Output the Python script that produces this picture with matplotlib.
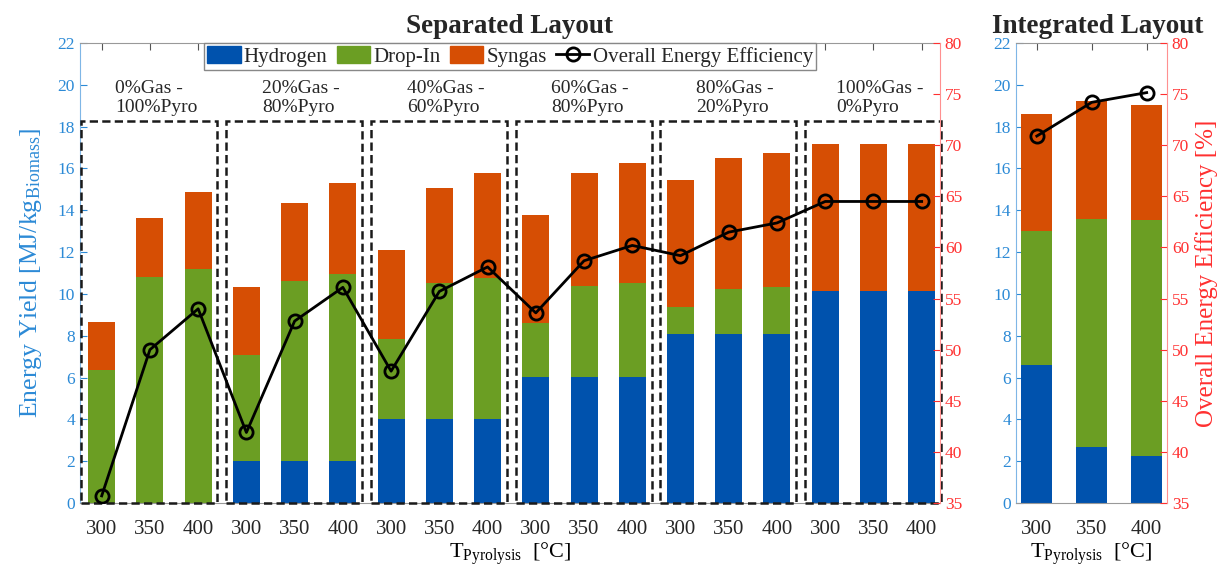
import numpy as np
import matplotlib.pyplot as plt
from matplotlib.patches import Patch, Rectangle
from matplotlib.lines import Line2D

plt.rcParams['font.family'] = ['Liberation Serif', 'DejaVu Serif']
plt.rcParams['mathtext.fontset'] = 'custom'
plt.rcParams['mathtext.rm'] = 'Liberation Serif'
plt.rcParams['mathtext.it'] = 'Liberation Serif:italic'
plt.rcParams['text.color'] = '#262626'

# data
temps = ['300', '350', '400']
groups = ['0%Gas -\n100%Pyro', '20%Gas -\n80%Pyro', '40%Gas -\n60%Pyro',
          '60%Gas -\n80%Pyro', '80%Gas -\n20%Pyro', '100%Gas -\n0%Pyro']

sep_hydrogen = [0, 0, 0, 2.0, 2.0, 2.0, 4.0, 4.0, 4.0,
                6.05, 6.05, 6.05, 8.1, 8.1, 8.1, 10.15, 10.15, 10.15]
sep_dropin = [6.35, 10.8, 11.2, 5.08, 8.63, 8.94, 3.86, 6.52, 6.76,
              2.55, 4.33, 4.47, 1.27, 2.15, 2.23, 0, 0, 0]
sep_syngas = [2.3, 2.85, 3.67, 3.27, 3.73, 4.36, 4.24, 4.54, 5.02,
              5.17, 5.4, 5.74, 6.08, 6.25, 6.41, 7.02, 7.02, 7.02]
sep_eff = [35.7, 50.0, 54.0, 41.9, 52.8, 56.1, 47.9, 55.7, 58.1,
           53.6, 58.7, 60.2, 59.2, 61.5, 62.4, 64.5, 64.5, 64.5]

int_hydrogen = [6.6, 2.7, 2.27]
int_dropin = [6.42, 10.88, 11.26]
int_syngas = [5.58, 5.66, 5.5]
int_eff = [70.9, 74.2, 75.15]

c_h2 = '#0052AD'
c_drop = '#6B9E23'
c_syn = '#D64E04'
c_left = '#2C8AD6'
c_right = '#FF3030'
bw = 0.56


def draw_panel(ax, h2, drop, syn, eff, xlabels):
    x = np.arange(1, len(h2) + 1)
    h2 = np.array(h2)
    drop = np.array(drop)
    syn = np.array(syn)
    ax.bar(x, h2, bw, color=c_h2, zorder=2)
    ax.bar(x, drop, bw, bottom=h2, color=c_drop, zorder=2)
    ax.bar(x, syn, bw, bottom=h2 + drop, color=c_syn, zorder=2)
    ax.set_ylim(0, 22)
    ax.set_yticks(range(0, 23, 2))
    ax.set_xticks(x)
    ax.set_xticklabels(xlabels, fontsize=15, color='#262626')
    ax.tick_params(axis='x', direction='in', top=True, pad=12, length=5, color='#555555')
    ax.tick_params(axis='y', direction='in', colors=c_left, labelsize=12.5, length=5)
    ax.spines['left'].set_color('#7FB6E6')
    ax.spines['bottom'].set_color('#999999')
    ax.spines['top'].set_color('#999999')
    ax.spines['right'].set_visible(False)
    ax.set_xlabel('T$_{\\mathrm{Pyrolysis}}$  [°C]', fontsize=16, labelpad=1)

    tw = ax.twinx()
    tw.plot(x, eff, '-o', color='black', lw=2, ms=9.5, mfc='none', mew=2, zorder=4)
    tw.set_ylim(35, 80)
    tw.set_yticks(range(35, 81, 5))
    tw.tick_params(axis='y', direction='in', colors=c_right, labelsize=12.5, length=5)
    for s in ['left', 'top', 'bottom']:
        tw.spines[s].set_visible(False)
    tw.spines['right'].set_color('#FF9090')
    return tw


fig = plt.figure(figsize=(12.23, 5.70), dpi=100)
ax1 = fig.add_axes([0.0654, 0.1175, 0.7032, 0.807])
ax2 = fig.add_axes([0.8307, 0.1175, 0.1235, 0.807])

tw1 = draw_panel(ax1, sep_hydrogen, sep_dropin, sep_syngas, sep_eff, temps * 6)
ax1.set_xlim(0.55, 18.38)
ax1.set_ylabel('Energy Yield [MJ/kg$_{\\mathrm{Biomass}}$]', fontsize=18.5, color=c_left, labelpad=10)
ax1.set_title('Separated Layout', fontsize=19.5, fontweight='bold', pad=7)

# dashed boxes around each blend group
for g, name in enumerate(groups):
    left = 3 * g + 0.58
    ax1.add_patch(Rectangle((left, 0), 2.82, 18.25, fill=False, ls=(0, (3.3, 1.7)),
                            lw=1.8, ec='#1A1A1A', zorder=3, clip_on=False))
    ax1.text(3 * g + 2.13, 19.35, name, ha='center', va='center', multialignment='left',
             fontsize=14, color='#262626', linespacing=1.15)

handles = [Patch(color=c_h2, label='Hydrogen'), Patch(color=c_drop, label='Drop-In'),
           Patch(color=c_syn, label='Syngas'),
           Line2D([], [], color='black', marker='o', mfc='none', mew=2, ms=9.5, lw=2,
                  label='Overall Energy Efficiency')]
leg = tw1.legend(handles=handles, loc='upper center', bbox_to_anchor=(0.5, 1.0), ncol=4,
                 fontsize=15, frameon=True, fancybox=False, framealpha=1, edgecolor='#888888',
                 borderpad=0.15, handlelength=1.6, handleheight=0.9, handletextpad=0.15,
                 columnspacing=0.45, borderaxespad=0)
leg.get_frame().set_linewidth(1)

tw2 = draw_panel(ax2, int_hydrogen, int_dropin, int_syngas, int_eff, temps)
ax2.set_xlim(0.62, 3.37)
ax2.set_title('Integrated Layout', fontsize=19.5, fontweight='bold', pad=7, x=0.543)
tw2.set_ylabel('Overall Energy Efficiency [%]', fontsize=18, color=c_right, labelpad=4)

fig.savefig('out.png', dpi=100)
